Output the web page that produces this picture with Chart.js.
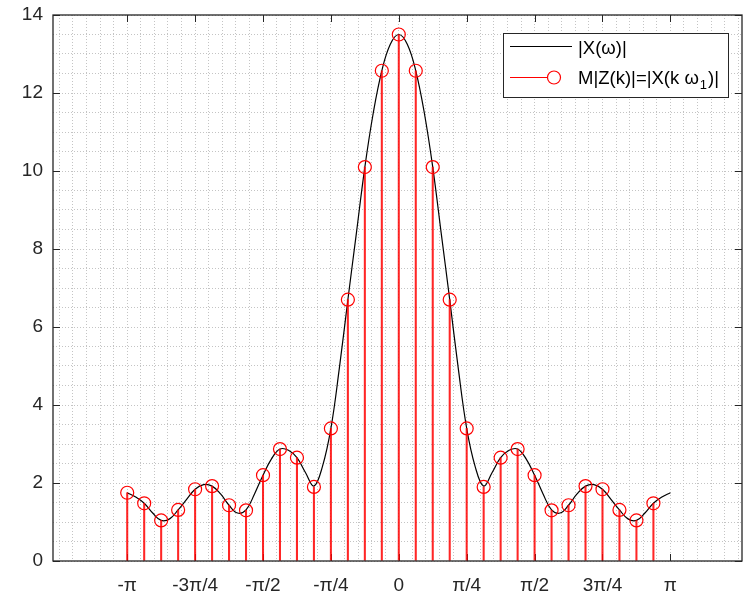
<!DOCTYPE html>
<html>
<head>
<meta charset="utf-8">
<script src="https://cdn.jsdelivr.net/npm/chart.js@4.4.0/dist/chart.umd.min.js"></script>
<style>
  html, body { margin: 0; padding: 0; background: #fff; }
  #wrap { width: 754px; height: 594px; }
</style>
</head>
<body>
<div id="wrap"><canvas id="chart" width="754" height="594"></canvas></div>
<script>
// ============================================================
// Data
// ============================================================
const PI = Math.PI;
const N = 32;                       // samples per period, omega_1 = 2*pi/N

// stem samples: k and M|Z(k)| = |X(k*omega_1)|
const sampleK = [-16, -15, -14, -13, -12, -11, -10, -9, -8, -7, -6, -5, -4, -3, -2, -1,
                 0, 1, 2, 3, 4, 5, 6, 7, 8, 9, 10, 11, 12, 13, 14, 15];
const sampleMag = [1.75, 1.48, 1.04, 1.31, 1.84, 1.92, 1.43, 1.30, 2.20, 2.87, 2.65, 1.90, 3.40, 6.70, 10.10, 12.57,
                   13.50, 12.57, 10.10, 6.70, 3.40, 1.90, 2.65, 2.87, 2.20, 1.30, 1.43, 1.92, 1.84, 1.31, 1.04, 1.48];

// continuous |X(omega)| read at half-sample spacing, omega = j*pi/32, j = -32..32
const curveJ = [-32, -31, -30, -29, -28, -27, -26, -25, -24, -23, -22, -21, -20, -19, -18, -17,
                -16, -15, -14, -13, -12, -11, -10, -9, -8, -7, -6, -5, -4, -3, -2, -1, 0,
                1, 2, 3, 4, 5, 6, 7, 8, 9, 10, 11, 12, 13, 14, 15, 16,
                17, 18, 19, 20, 21, 22, 23, 24, 25, 26, 27, 28, 29, 30, 31, 32];
const curveMag = [1.75, 1.64, 1.48, 1.23, 1.04, 1.08, 1.31, 1.58, 1.84, 1.96, 1.92, 1.72, 1.43, 1.23, 1.31, 1.72,
                  2.20, 2.62, 2.87, 2.84, 2.65, 2.27, 1.92, 2.42, 3.40, 4.95, 6.70, 8.40, 10.10, 11.50, 12.57, 13.25, 13.50,
                  13.25, 12.57, 11.50, 10.10, 8.40, 6.70, 4.95, 3.40, 2.42, 1.92, 2.27, 2.65, 2.84, 2.87, 2.62, 2.20,
                  1.72, 1.31, 1.23, 1.43, 1.72, 1.92, 1.96, 1.84, 1.58, 1.31, 1.08, 1.04, 1.23, 1.48, 1.64, 1.75];

const xTickLabels = ["-π", "-3π/4", "-π/2", "-π/4", "0", "π/4", "π/2", "3π/4", "π"];
const yTickLabels = [0, 2, 4, 6, 8, 10, 12, 14];

// ============================================================
// Style
// ============================================================
const FONT = "'Liberation Sans', Arial, Helvetica, sans-serif";
const AXIS_COLOR = "#262626";
const GRID_COLOR = "#c4c4c4";

const samplePoints = sampleK.map((k, i) => ({ x: k * 2 * PI / N, y: sampleMag[i] }));
const curvePoints = curveJ.map((j, i) => ({ x: j * PI / N, y: curveMag[i] }));

// drop the label overflow padding so layout.padding alone sets the plot box
const noLabelPadding = (s) => {
  s.paddingTop = 0; s.paddingBottom = 0; s.paddingLeft = 0; s.paddingRight = 0;
};

// ============================================================
// Plugins: MATLAB-like box + inward ticks, and boxed legend
// ============================================================
const boxPlugin = {
  id: "matlabBox",
  beforeDatasetsDraw(chart) {
    const { ctx, chartArea: a, scales } = chart;
    ctx.save();
    ctx.strokeStyle = AXIS_COLOR;
    ctx.lineWidth = 1;
    ctx.beginPath();
    for (let m = -4; m <= 4; m++) {
      const x = Math.round(scales.x.getPixelForValue(m * PI / 4)) + 0.5;
      ctx.moveTo(x, a.bottom); ctx.lineTo(x, a.bottom - 7);
      ctx.moveTo(x, a.top); ctx.lineTo(x, a.top + 7);
    }
    yTickLabels.forEach((v) => {
      const y = Math.round(scales.y.getPixelForValue(v)) + 0.5;
      ctx.moveTo(a.left, y); ctx.lineTo(a.left + 7, y);
      ctx.moveTo(a.right, y); ctx.lineTo(a.right - 7, y);
    });
    ctx.stroke();
    ctx.restore();
  },
  afterDatasetsDraw(chart) {
    const { ctx, chartArea: a } = chart;
    ctx.save();
    ctx.strokeStyle = AXIS_COLOR;
    ctx.lineWidth = 1.3;
    ctx.strokeRect(a.left, a.top, a.right - a.left, a.bottom - a.top);
    ctx.restore();
  },
};

const legendPlugin = {
  id: "matlabLegend",
  afterDraw(chart) {
    const { ctx, chartArea: a } = chart;
    const x0 = a.right - 239, y0 = a.top + 18, w = 225, h = 64;
    ctx.save();
    ctx.fillStyle = "#fff";
    ctx.fillRect(x0, y0, w, h);
    ctx.strokeStyle = AXIS_COLOR;
    ctx.lineWidth = 1;
    ctx.strokeRect(x0 + 0.5, y0 + 0.5, w, h);

    // entry 1: black line
    ctx.strokeStyle = "#000";
    ctx.lineWidth = 1;
    ctx.beginPath();
    ctx.moveTo(x0 + 7, y0 + 13.5); ctx.lineTo(x0 + 69, y0 + 13.5);
    ctx.stroke();

    // entry 2: red line + circle marker
    ctx.strokeStyle = "#ff0000";
    ctx.lineWidth = 1.2;
    ctx.beginPath();
    ctx.moveTo(x0 + 7, y0 + 44.5); ctx.lineTo(x0 + 45, y0 + 44.5);
    ctx.stroke();
    ctx.beginPath();
    ctx.arc(x0 + 51, y0 + 44.5, 6.5, 0, 2 * PI);
    ctx.stroke();

    ctx.fillStyle = "#000";
    ctx.textBaseline = "alphabetic";
    ctx.textAlign = "left";
    ctx.font = "18.5px " + FONT;
    const tx = x0 + 75;
    ctx.fillText("|X(ω)|", tx, y0 + 21);

    let cx = tx;
    const base2 = y0 + 51;
    const part1 = "M|Z(k)|=|X(k ω";
    ctx.fillText(part1, cx, base2);
    cx += ctx.measureText(part1).width + 1;
    ctx.font = "13px " + FONT;
    ctx.fillText("1", cx, base2 + 5);
    cx += ctx.measureText("1").width + 1;
    ctx.font = "18.5px " + FONT;
    ctx.fillText(")|", cx, base2);
    ctx.restore();
  },
};

// ============================================================
// Chart
// ============================================================
new Chart(document.getElementById("chart"), {
  type: "line",
  data: {
    datasets: [
      {
        type: "line",
        label: "|X(ω)|",
        data: curvePoints,
        borderColor: "#000",
        borderWidth: 1.2,
        pointRadius: 0,
        tension: 0.4,
        fill: false,
        order: 3,
      },
      {
        type: "bar",
        label: "stems",
        data: samplePoints,
        backgroundColor: "rgba(255,0,0,0.85)",
        borderWidth: 0,
        barThickness: 1.4,
        order: 2,
      },
      {
        type: "line",
        label: "M|Z(k)|=|X(k ω1)|",
        data: samplePoints,
        showLine: false,
        pointStyle: "circle",
        pointRadius: 6.5,
        pointBorderWidth: 1.2,
        pointBorderColor: "#ff0000",
        pointBackgroundColor: "rgba(0,0,0,0)",
        order: 1,
      },
    ],
  },
  options: {
    responsive: false,
    animation: false,
    devicePixelRatio: 1,
    layout: { padding: { left: 0, top: 15, right: 12, bottom: 0 } },
    plugins: { legend: { display: false }, tooltip: { enabled: false } },
    scales: {
      x: {
        type: "linear",
        min: -4,
        max: 3.97,
        offset: false,
        afterBuildTicks: (s) => {
          s.ticks = Array.from({ length: 51 }, (_, i) => ({ value: (i - 25) * PI / 20 }));
        },
        afterFit: (s) => { s.height = 33; noLabelPadding(s); },
        ticks: {
          autoSkip: false,
          maxRotation: 0,
          minRotation: 0,
          padding: 13,
          color: AXIS_COLOR,
          font: { size: 19, family: FONT },
          callback: (v, idx) => {
            const k = idx - 25;
            return (k % 5 === 0 && Math.abs(k) <= 20) ? xTickLabels[k / 5 + 4] : "";
          },
        },
        grid: { color: GRID_COLOR, lineWidth: 1, drawTicks: false, offset: false },
        border: { display: false, dash: [1, 2] },
      },
      y: {
        type: "linear",
        min: 0,
        max: 14,
        afterBuildTicks: (s) => {
          s.ticks = Array.from({ length: 29 }, (_, i) => ({ value: i * 0.5 }));
        },
        afterFit: (s) => { s.width = 53; noLabelPadding(s); },
        ticks: {
          autoSkip: false,
          padding: 10,
          color: AXIS_COLOR,
          font: { size: 19, family: FONT },
          callback: (v) => (yTickLabels.includes(v) ? String(v) : ""),
        },
        grid: { color: GRID_COLOR, lineWidth: 1, drawTicks: false },
        border: { display: false, dash: [1, 2] },
      },
    },
  },
  plugins: [boxPlugin, legendPlugin],
});
</script>
</body>
</html>
